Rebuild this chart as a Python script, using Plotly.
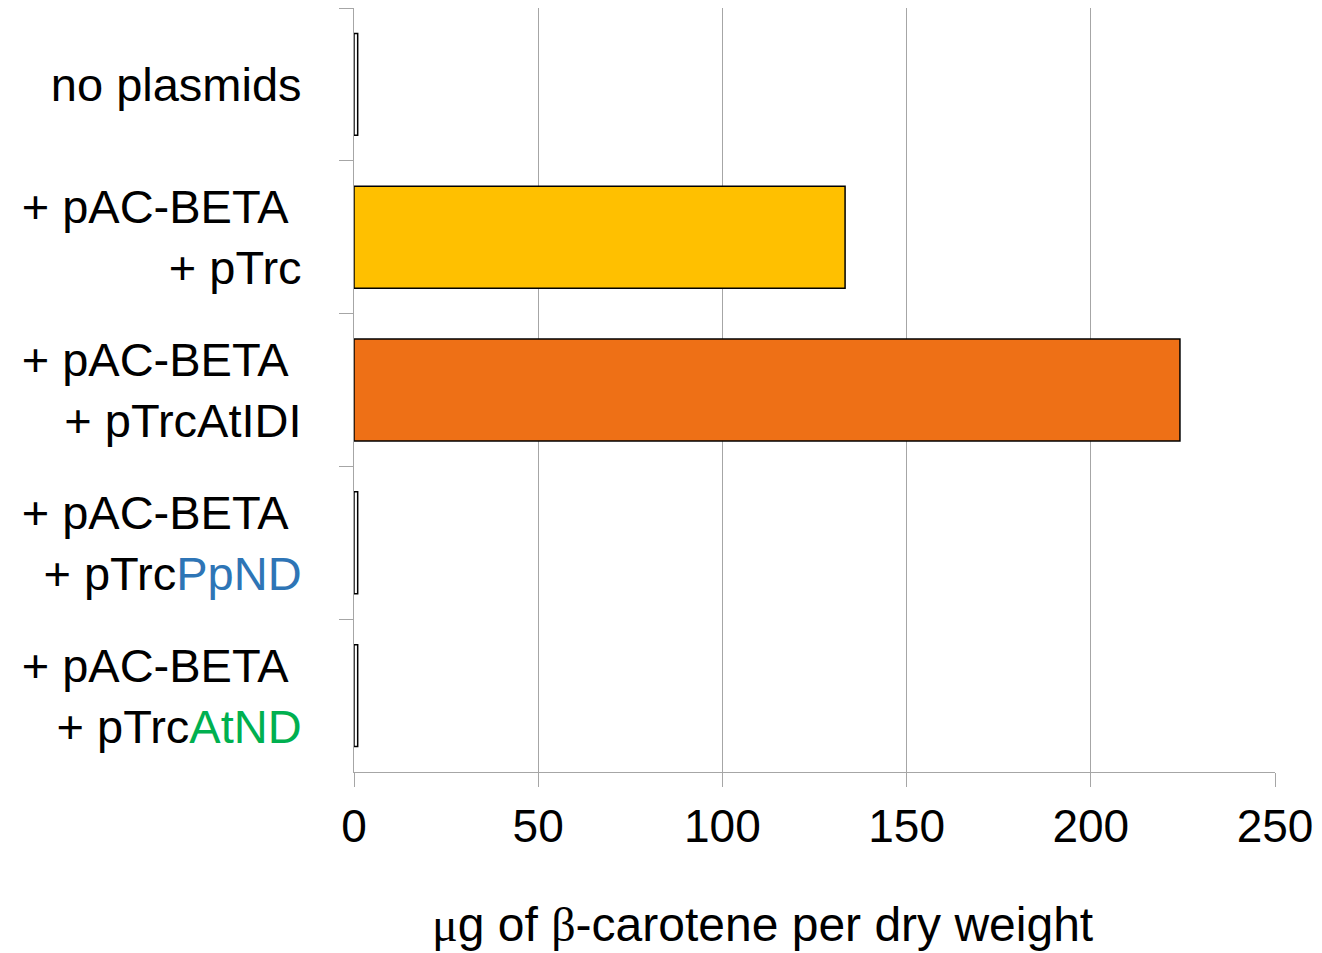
import plotly.graph_objects as go

categories = [
    "no plasmids",
    "+ pAC-BETA\u00a0<br>+ pTrc",
    "+ pAC-BETA\u00a0<br>+ pTrcAtIDI",
    "+ pAC-BETA\u00a0<br>+ pTrc<span style='color:#2E75B6'>PpND</span>",
    "+ pAC-BETA\u00a0<br>+ pTrc<span style='color:#00B050'>AtND</span>",
]
values = [1.0, 133.3, 224.2, 1.0, 1.0]
bar_colors = ["#FFFFFF", "#FFC000", "#EE7016", "#FFFFFF", "#FFFFFF"]
x_ticks = [0, 50, 100, 150, 200, 250]
x_title = ("<span style='font-family:Liberation Serif'>\u03bc</span>g of "
           "<span style='font-family:Liberation Serif'>\u03b2</span>-carotene per dry weight")

FONT = "Liberation Sans, Arial, sans-serif"
GRID = "#A6A6A6"

fig = go.Figure(
    go.Bar(
        x=values,
        y=categories,
        orientation="h",
        marker=dict(color=bar_colors, line=dict(color="#000000", width=1.5)),
        width=0.667,
    )
)

fig.update_layout(
    width=1322,
    height=953,
    margin=dict(l=354, r=47, t=8, b=181),
    plot_bgcolor="white",
    paper_bgcolor="white",
    font=dict(family=FONT, size=46, color="#000000"),
    showlegend=False,
)

fig.update_xaxes(
    range=[0, 250],
    tickvals=x_ticks,
    ticktext=[str(v) for v in x_ticks],
    showgrid=True,
    gridcolor=GRID,
    gridwidth=1,
    showline=True,
    linecolor=GRID,
    linewidth=1,
    ticks="outside",
    ticklen=14,
    tickcolor=GRID,
    tickwidth=1,
    tickfont=dict(size=46),
    zeroline=False,
)

fig.update_yaxes(
    categoryorder="array",
    categoryarray=categories,
    autorange="reversed",
    showgrid=False,
    showline=True,
    linecolor=GRID,
    linewidth=1,
    ticks="outside",
    tickson="boundaries",
    ticklen=14,
    tickcolor=GRID,
    tickwidth=1,
    tickfont=dict(size=47),
    ticklabelstandoff=42,
)

fig.add_annotation(
    text=x_title,
    xref="paper", yref="paper",
    x=0.443, y=-0.200,
    xanchor="center", yanchor="middle",
    showarrow=False,
    font=dict(size=48),
)

fig.write_html("out.html")
